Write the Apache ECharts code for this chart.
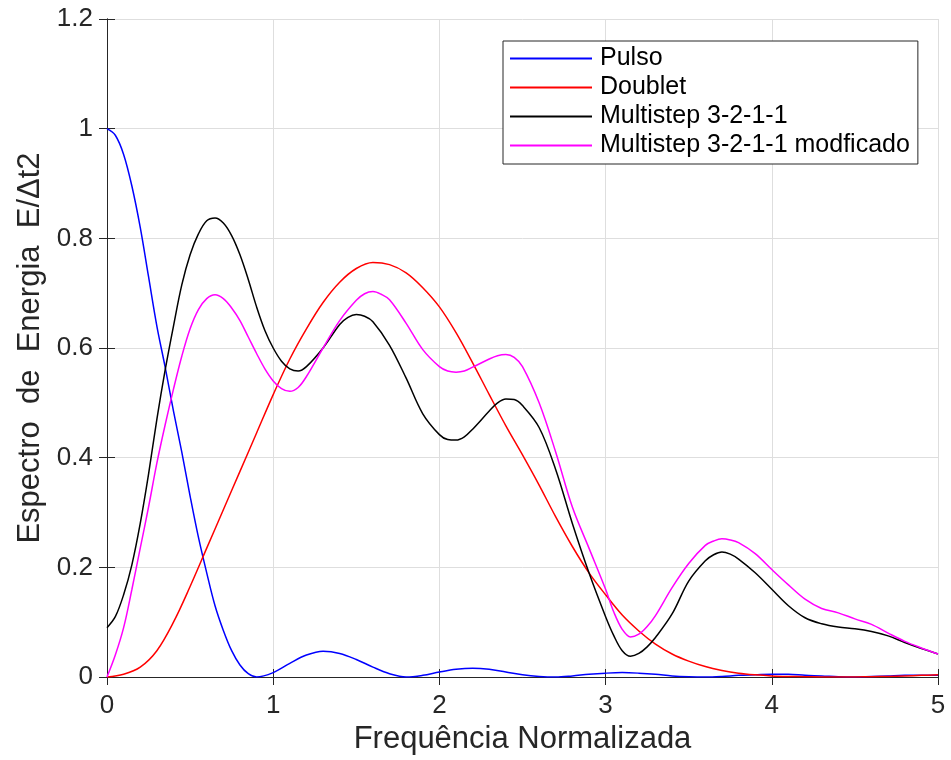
<!DOCTYPE html>
<html>
<head>
<meta charset="utf-8">
<script src="https://cdn.jsdelivr.net/npm/echarts@6/dist/echarts.min.js"></script>
<style>
html,body{margin:0;padding:0;background:#fff;}
#chart{width:951px;height:760px;}
</style>
</head>
<body>
<div id="chart"></div>
<script>
// Pulso
const pulsoX = [0,0.05,0.1,0.15,0.2,0.25,0.3,0.35,0.4,0.45,0.5,0.55,0.6,0.65,0.7,0.75,0.8,0.85,0.9,1.0,1.1,1.2,1.3,1.4,1.5,1.6,1.7,1.8,1.9,2.0,2.1,2.2,2.3,2.4,2.5,2.6,2.7,2.8,2.9,3.0,3.1,3.2,3.3,3.4,3.5,3.6,3.7,3.8,3.9,4.0,4.1,4.2,4.3,4.4,4.5,4.6,4.7,4.8,4.9,5.0];
const pulsoY = [1.0,0.988,0.953,0.895,0.82,0.73,0.64,0.565,0.485,0.41,0.33,0.255,0.19,0.13,0.085,0.048,0.022,0.006,0.0,0.008,0.025,0.04,0.047,0.043,0.032,0.018,0.006,0.0,0.003,0.009,0.014,0.016,0.014,0.009,0.004,0.001,0.0,0.002,0.005,0.007,0.008,0.007,0.005,0.002,0.0005,0.0,0.001,0.003,0.004,0.005,0.005,0.003,0.002,0.0005,0.0,0.001,0.002,0.003,0.003,0.003];

// Doublet
const doubletX = [0,0.1,0.2,0.3,0.4,0.5,0.6,0.7,0.8,0.9,1.0,1.1,1.2,1.3,1.4,1.5,1.6,1.7,1.8,1.9,2.0,2.1,2.2,2.3,2.4,2.5,2.6,2.7,2.8,2.9,3.0,3.1,3.2,3.3,3.4,3.5,3.6,3.7,3.8,3.9,4.0,4.1,4.2,4.3,4.4,4.5,4.6,4.7,4.8,4.9,5.0];
const doubletY = [0,0.005,0.018,0.048,0.10,0.165,0.235,0.305,0.375,0.445,0.515,0.58,0.635,0.683,0.72,0.745,0.756,0.752,0.737,0.71,0.675,0.628,0.573,0.515,0.458,0.405,0.35,0.292,0.238,0.19,0.15,0.113,0.084,0.06,0.042,0.029,0.019,0.012,0.007,0.004,0.002,0.001,0.0005,0.0,0.0,0.0,0.0005,0.001,0.002,0.003,0.004];

// Multistep 3-2-1-1
const multiX = [0,0.05,0.1,0.15,0.2,0.25,0.3,0.35,0.4,0.45,0.5,0.55,0.6,0.65,0.7,0.75,0.8,0.85,0.9,0.95,1.0,1.05,1.1,1.15,1.2,1.3,1.4,1.45,1.5,1.55,1.6,1.7,1.8,1.9,2.0,2.05,2.1,2.15,2.2,2.3,2.35,2.4,2.45,2.5,2.6,2.7,2.8,2.9,3.0,3.05,3.1,3.15,3.2,3.25,3.3,3.4,3.5,3.6,3.65,3.7,3.75,3.8,3.9,4.0,4.1,4.2,4.3,4.4,4.5,4.6,4.7,4.8,4.9,5.0];
const multiY = [0.09,0.11,0.15,0.205,0.28,0.37,0.47,0.56,0.64,0.715,0.77,0.808,0.832,0.837,0.828,0.805,0.77,0.725,0.675,0.632,0.60,0.576,0.562,0.558,0.566,0.60,0.643,0.656,0.661,0.658,0.648,0.605,0.545,0.48,0.442,0.433,0.432,0.438,0.452,0.485,0.50,0.507,0.506,0.495,0.455,0.378,0.28,0.19,0.11,0.075,0.048,0.038,0.043,0.055,0.072,0.115,0.175,0.212,0.223,0.228,0.224,0.215,0.19,0.16,0.13,0.108,0.097,0.091,0.088,0.083,0.075,0.063,0.052,0.042];

// Multistep 3-2-1-1 modficado
const modX = [0,0.05,0.1,0.15,0.2,0.25,0.3,0.35,0.4,0.45,0.5,0.55,0.6,0.65,0.7,0.75,0.8,0.85,0.9,0.95,1.0,1.05,1.1,1.15,1.2,1.3,1.4,1.5,1.55,1.6,1.65,1.7,1.8,1.9,2.0,2.05,2.1,2.15,2.2,2.3,2.35,2.4,2.45,2.5,2.6,2.7,2.8,2.9,3.0,3.05,3.1,3.15,3.2,3.25,3.3,3.4,3.5,3.6,3.65,3.7,3.75,3.8,3.9,4.0,4.1,4.2,4.3,4.4,4.5,4.6,4.7,4.8,4.9,5.0];
const modY = [0,0.04,0.09,0.16,0.235,0.31,0.39,0.46,0.525,0.585,0.635,0.67,0.69,0.697,0.69,0.673,0.65,0.62,0.59,0.562,0.54,0.526,0.521,0.528,0.548,0.60,0.65,0.687,0.699,0.703,0.698,0.688,0.645,0.597,0.566,0.558,0.556,0.558,0.565,0.58,0.586,0.588,0.583,0.566,0.50,0.41,0.31,0.235,0.16,0.118,0.087,0.073,0.078,0.092,0.112,0.163,0.207,0.24,0.248,0.252,0.25,0.245,0.225,0.196,0.168,0.142,0.125,0.117,0.106,0.096,0.08,0.065,0.053,0.042];

const seriesNames = ['Pulso','Doublet','Multistep 3-2-1-1','Multistep 3-2-1-1 modficado'];
const seriesColors = ['#0000ff','#ff0000','#000000','#ff00ff'];
const seriesX = [pulsoX, doubletX, multiX, modX];
const seriesY = [pulsoY, doubletY, multiY, modY];

const xTicks = [0,1,2,3,4,5];
const yTicks = [0,0.2,0.4,0.6,0.8,1,1.2];

const FONT = 'Liberation Sans, Arial, sans-serif';
const TXT = '#262626';

const chart = echarts.init(document.getElementById('chart'), null, {renderer:'canvas'});

function frame(extra){
  return Object.assign({
    axisLine:{show:true, lineStyle:{color:TXT, width:1}},
    axisTick:{show:true, inside:true, length:8, lineStyle:{color:TXT, width:1}}
  }, extra);
}

const option = {
  animation:false,
  backgroundColor:'#ffffff',
  grid:{left:107, right:13, top:19, bottom:82, containLabel:false},
  legend:{
    orient:'vertical',
    left:503, top:41,
    padding:[3,8,4,7],
    itemGap:0,
    itemWidth:82, itemHeight:2,
    icon:'rect',
    backgroundColor:'#ffffff',
    borderColor:TXT, borderWidth:1, borderRadius:0,
    textStyle:{fontFamily:FONT, fontSize:25, color:'#000', lineHeight:29, padding:[0,0,0,3]},
    data: seriesNames
  },
  xAxis:[
    frame({
      type:'value', min:0, max:5, interval:1, position:'bottom',
      name:'Frequência Normalizada', nameLocation:'middle', nameGap:47,
      nameTextStyle:{fontFamily:FONT, fontSize:31, color:TXT},
      axisLabel:{fontFamily:FONT, fontSize:26, color:TXT, margin:16,
        formatter:function(v){ return xTicks.indexOf(v) >= 0 ? String(v) : ''; }},
      splitLine:{show:true, lineStyle:{color:'#dedede', width:1}}
    }),
    frame({
      type:'value', min:0, max:5, interval:1, position:'top',
      axisLabel:{show:false}, splitLine:{show:false}
    })
  ],
  yAxis:[
    frame({
      type:'value', min:0, max:1.2, interval:0.2, position:'left',
      name:'Espectro  de  Energia  E/Δt2', nameLocation:'middle', nameGap:58,
      nameTextStyle:{fontFamily:FONT, fontSize:31, color:TXT},
      axisLabel:{fontFamily:FONT, fontSize:26, color:TXT, margin:14,
        formatter:function(v){ var r = Math.round(v*10)/10; return yTicks.indexOf(r) >= 0 ? String(r) : ''; }},
      splitLine:{show:true, lineStyle:{color:'#dedede', width:1}}
    }),
    frame({
      type:'value', min:0, max:1.2, interval:0.2, position:'right',
      axisLabel:{show:false}, splitLine:{show:false}
    })
  ],
  series: seriesNames.map(function(name, i){
    return {
      name:name, type:'line', xAxisIndex:0, yAxisIndex:0,
      data: seriesX[i].map(function(f, k){ return [f, seriesY[i][k]]; }),
      smooth:0.35, symbol:'none', showSymbol:false,
      lineStyle:{color:seriesColors[i], width:1.5},
      itemStyle:{color:seriesColors[i]},
      clip:true
    };
  })
};
chart.setOption(option);
</script>
</body>
</html>
